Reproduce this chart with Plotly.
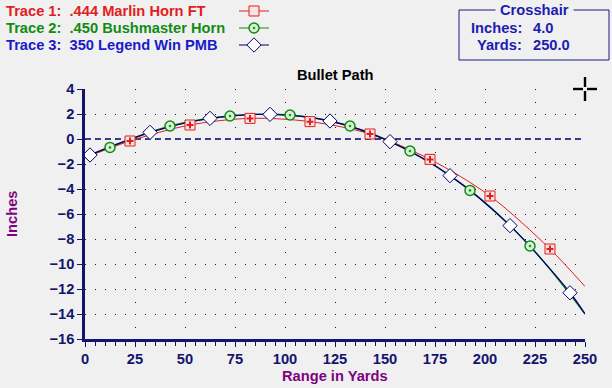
import plotly.graph_objects as go

# ---------------- data ----------------
t1_name = "Trace 1:\u00a0\u00a0.444 Marlin Horn FT"
t1_yards = [0, 22.5, 52.5, 82.5, 112.5, 142.5, 172.5, 202.5, 232.5, 250]
t1_inches = [-1.5, -0.16, 1.12, 1.65, 1.39, 0.40, -1.63, -4.56, -8.80, -11.8]

t2_name = "Trace 2:\u00a0\u00a0.450 Bushmaster Horn"
t2_yards = [0, 12.5, 42.5, 72.5, 102.5, 132.5, 162.5, 192.5, 222.5, 250]
t2_inches = [-1.5, -0.67, 1.04, 1.84, 1.92, 1.04, -0.96, -4.11, -8.56, -14.0]

t3_name = "Trace 3:\u00a0\u00a0350 Legend Win PMB"
t3_yards = [0, 2.5, 32.5, 62.5, 92.5, 122.5, 152.5, 182.5, 212.5, 242.5, 250]
t3_inches = [-1.5, -1.28, 0.53, 1.65, 1.97, 1.44, -0.21, -2.93, -6.93, -12.3, -14.0]

x_ticks = [0, 25, 50, 75, 100, 125, 150, 175, 200, 225, 250]
y_ticks = [4, 2, 0, -2, -4, -6, -8, -10, -12, -14, -16]
x_range = [0, 250]
y_range = [-16, 4]

crosshair_inches = 4.0
crosshair_yards = 250.0

# ---------------- styles ----------------
FONT = "Arial, 'Liberation Sans', sans-serif"
FS = 14.67
BG = "#f0f0f0"
NAVY = "#14146e"
RED = "#e01e1e"
GREEN = "#138a13"
BLUE = "#1a1acc"
PURPLE = "#800080"
BOXBLUE = "#1c1cb0"

L, R, T, B = 85, 27, 89, 49
W, H = 612, 388
PW, PH = W - L - R, H - T - B


def px(x):
    return (x - L) / PW


def py(y):
    return (H - B - y) / PH


fig = go.Figure()

# lines (drawn from the full read-off point lists)
fig.add_trace(go.Scatter(x=t2_yards, y=t2_inches, mode="lines",
                         line=dict(color=GREEN, width=1.3, shape="spline", smoothing=0.9),
                         showlegend=False, hoverinfo="skip"))
fig.add_trace(go.Scatter(x=t1_yards, y=t1_inches, mode="lines",
                         line=dict(color=RED, width=1, shape="spline", smoothing=0.9),
                         showlegend=False, hoverinfo="skip"))
fig.add_trace(go.Scatter(x=t3_yards, y=t3_inches, mode="lines",
                         line=dict(color="#00006e", width=1.3, shape="spline", smoothing=0.9),
                         showlegend=False, hoverinfo="skip"))

# markers
m1 = dict(symbol="square", size=10, color="#f7e4e4", line=dict(color=RED, width=1))
m1c = dict(symbol="cross-thin", size=5, line=dict(color=RED, width=2))
m2 = dict(symbol="circle-dot", size=10, color="#d6f2d6", line=dict(color=GREEN, width=1.5))
m3 = dict(symbol="diamond", size=11, color="white", line=dict(color="#00006e", width=1))

fig.add_trace(go.Scatter(x=t1_yards[1:-1], y=t1_inches[1:-1], mode="markers",
                         marker=m1, showlegend=False))
fig.add_trace(go.Scatter(x=t1_yards[1:-1], y=t1_inches[1:-1], mode="markers",
                         marker=m1c, showlegend=False))
fig.add_trace(go.Scatter(x=t2_yards[1:-1], y=t2_inches[1:-1], mode="markers",
                         marker=m2, showlegend=False))
fig.add_trace(go.Scatter(x=t3_yards[1:-1], y=t3_inches[1:-1], mode="markers",
                         marker=m3, showlegend=False))

# legend samples (legend-only entries)
fig.add_trace(go.Scatter(x=[None], y=[None], mode="lines+markers", name=" ",
                         line=dict(color=RED, width=1), marker=m1, legend="legend"))
fig.add_trace(go.Scatter(x=[None], y=[None], mode="lines+markers", name=" ",
                         line=dict(color=GREEN, width=1), marker=m2, legend="legend2"))
fig.add_trace(go.Scatter(x=[None], y=[None], mode="lines+markers", name=" ",
                         line=dict(color="#00006e", width=1), marker=m3, legend="legend3"))

leg = dict(bgcolor="rgba(0,0,0,0)", borderwidth=0, font=dict(size=10),
           xanchor="left", yanchor="middle", itemwidth=30)
fig.update_layout(
    legend=dict(leg, x=px(234), y=py(11)),
    legend2=dict(leg, x=px(234), y=py(28)),
    legend3=dict(leg, x=px(234), y=py(45)),
)

tickfont = dict(family=FONT, size=FS, color=NAVY, weight="bold")

fig.update_xaxes(range=x_range, tickvals=x_ticks, ticks="outside", ticklen=5,
                 tickwidth=1, tickcolor=NAVY, tickfont=tickfont,
                 showline=True, linecolor=NAVY, linewidth=2.5,
                 showgrid=True, gridcolor="#202020", gridwidth=1, griddash="1px,11.5px",
                 minor=dict(dtick=5, ticks="outside", ticklen=4, tickcolor=NAVY, showgrid=False),
                 zeroline=False, fixedrange=True)
fig.update_yaxes(range=y_range, tickvals=y_ticks, ticks="outside", ticklen=5,
                 tickwidth=1, tickcolor=NAVY, tickfont=tickfont,
                 showline=True, linecolor=NAVY, linewidth=2.5,
                 showgrid=True, gridcolor="#202020", gridwidth=1, griddash="1px,9px",
                 zeroline=False, fixedrange=True)

# dashed zero line
fig.add_shape(type="line", xref="x domain", yref="y", x0=0, x1=1, y0=0, y1=0,
              line=dict(color="#000070", width=1.6, dash="6px,4px"), layer="below")

# crosshair marker at (yards, inches) -- paper refs so it is not clipped
cx = (crosshair_yards - x_range[0]) / (x_range[1] - x_range[0])
cy = (crosshair_inches - y_range[0]) / (y_range[1] - y_range[0])
ch = dict(color="black", width=2.4)
for x0, x1, y0, y1 in [(-12, -2, 0, 0), (2, 12, 0, 0), (0, 0, -12, -2), (0, 0, 2, 12)]:
    fig.add_shape(type="line", xref="paper", yref="paper", xsizemode="pixel", ysizemode="pixel",
                  xanchor=cx, yanchor=cy,
                  x0=x0, x1=x1, y0=y0, y1=y1, line=ch)

# crosshair box
fig.add_shape(type="rect", xref="paper", yref="paper",
              x0=px(459), x1=px(609), y0=py(10), y1=py(60),
              line=dict(color="#1a1a80", width=1))

ann = []


def text(x, y, s, color, xanchor="left", size=FS, angle=0, bg=None, pad=1):
    a = dict(x=px(x), y=py(y), xref="paper", yref="paper", text=s, showarrow=False,
             xanchor=xanchor, yanchor="middle", textangle=angle,
             font=dict(family=FONT, size=size, color=color, weight="bold"), borderpad=pad)
    if bg:
        a["bgcolor"] = bg
    ann.append(a)


text(4, 11, t1_name, RED)
text(4, 28, t2_name, GREEN)
text(4, 45, t3_name, BLUE)

text(534, 10, "Crosshair", BOXBLUE, xanchor="center", bg=BG, pad=4)
text(524, 28, "Inches:", BOXBLUE, xanchor="right")
text(531, 28, f"{crosshair_inches:.1f}", BOXBLUE)
text(524, 45, "Yards:", BOXBLUE, xanchor="right")
text(531, 45, f"{crosshair_yards:.1f}", BOXBLUE)

text(335, 75, "Bullet Path", "black", xanchor="center")
text(335, 376, "Range in Yards", PURPLE, xanchor="center")
text(12, 214, "Inches", PURPLE, xanchor="center", angle=-90)

fig.update_layout(
    width=W, height=H,
    margin=dict(l=L, r=R, t=T, b=B, autoexpand=False),
    paper_bgcolor=BG, plot_bgcolor=BG,
    annotations=ann,
    font=dict(family=FONT),
)

fig.write_html("out.html", config={"displayModeBar": False},
               post_script="document.body.style.margin='0';document.body.style.background='#f0f0f0';")
